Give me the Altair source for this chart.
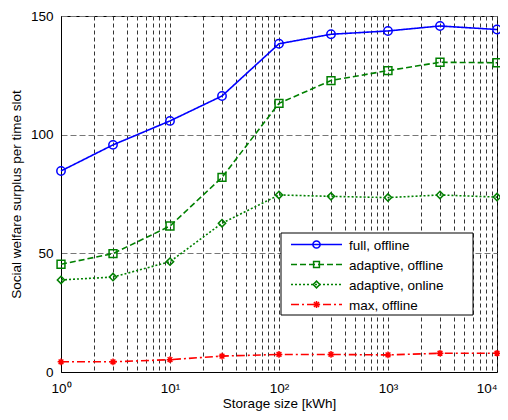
import altair as alt
import pandas as pd

# ---------------- data ----------------
sizes = [1, 3, 10, 30, 100, 300, 1000, 3000, 10000]
series_names = ["full, offline", "adaptive, offline", "adaptive, online", "max, offline"]
full_offline = [84.7, 95.7, 105.8, 116.3, 138.3, 142.3, 143.7, 145.8, 144.3]
adaptive_offline = [45.4, 49.9, 61.5, 82.0, 113.2, 122.8, 127.0, 130.5, 130.3]
adaptive_online = [38.8, 40.0, 46.5, 62.7, 74.6, 74.0, 73.5, 74.6, 73.7]
max_offline = [4.3, 4.3, 5.2, 6.7, 7.4, 7.4, 7.2, 7.9, 7.9]
y_ticks = [0, 50, 100, 150]
x_major = [1, 10, 100, 1000, 10000]
x_major_labels = ["10\u2070", "10\u00b9", "10\u00b2", "10\u00b3", "10\u2074"]

series_values = [full_offline, adaptive_offline, adaptive_online, max_offline]

# ---------------- styles ----------------
colors = ["#0000ff", "#008000", "#008000", "#ff0000"]
dashes = [[1, 0], [6, 3], [2, 2], [8, 3, 2, 3]]
star = "M-1,0L1,0M0,-1L0,1M-0.7,-0.7L0.7,0.7M-0.7,0.7L0.7,-0.7"
shapes = ["circle", "square", "diamond", star]
marker_sizes = [70, 45, 60, 70]
FONT = "Liberation Sans"

rows = []
for name, vals in zip(series_names, series_values):
    for s, v in zip(sizes, vals):
        rows.append({"series": name, "size": s, "value": v})
df = pd.DataFrame(rows)

x_grid = [m * 10 ** k for k in range(4) for m in range(1, 10)] + [10000]
label_expr = ""
for v, lab in zip(x_major, x_major_labels):
    label_expr += f"datum.value == {v} ? '{lab}' : "
label_expr += "''"
last = x_major[-1]

x_enc = alt.X(
    "size:Q",
    scale=alt.Scale(type="log", domain=[1, 10000], nice=False),
    axis=alt.Axis(
        title="Storage size [kWh]",
        values=x_grid,
        labelExpr=label_expr,
        labelOverlap=False,
        labelFlush=False,
        labelBound=False,
        labelAlign={"expr": f"datum.value == {last} ? 'right' : 'center'"},
        ticks=False,
        grid=True,
        gridDash=[4, 3],
        gridColor="#333333",
        gridWidth=1,
        labelPadding=9,
        titlePadding=2,
    ),
)
y_enc = alt.Y(
    "value:Q",
    scale=alt.Scale(domain=[0, 150], nice=False),
    axis=alt.Axis(
        title="Social welfare surplus per time slot",
        values=y_ticks,
        ticks=False,
        grid=True,
        gridDash=[6, 3],
        gridColor="#777777",
        labelPadding=8,
        titlePadding=7,
    ),
)

color_scale = alt.Scale(domain=series_names, range=colors)
dash_scale = alt.Scale(domain=series_names, range=dashes)
shape_scale = alt.Scale(domain=series_names, range=shapes)
size_scale = alt.Scale(domain=series_names, range=marker_sizes)

base = alt.Chart(df)
lines = base.mark_line(strokeWidth=1.6).encode(
    x=x_enc,
    y=y_enc,
    color=alt.Color("series:N", scale=color_scale, legend=None),
    strokeDash=alt.StrokeDash("series:N", scale=dash_scale, legend=None),
)
points = base.mark_point(filled=False, strokeWidth=1.5, opacity=1).encode(
    x="size:Q",
    y="value:Q",
    color=alt.Color("series:N", scale=color_scale, legend=None),
    shape=alt.Shape("series:N", scale=shape_scale, legend=None),
    size=alt.Size("series:N", scale=size_scale, legend=None),
)

# ---------------- manual legend (MATLAB style box) ----------------
one = alt.Data(values=[{"k": 0}])
box = alt.Chart(one).mark_rect(fill="white", stroke="black", strokeWidth=1).encode(
    x=alt.value(220), x2=alt.value(412), y=alt.value(217), y2=alt.value(299)
)
legend_layers = [box]
for i, name in enumerate(series_names):
    yy = 228.5 + 20 * i
    legend_layers.append(
        alt.Chart(one).mark_rule(
            color=colors[i], strokeWidth=1.6, strokeDash=dashes[i]
        ).encode(x=alt.value(230), x2=alt.value(281), y=alt.value(yy))
    )
    legend_layers.append(
        alt.Chart(one).mark_point(
            color=colors[i], filled=False, strokeWidth=1.5, shape=shapes[i],
            size=marker_sizes[i] * 0.75, opacity=1
        ).encode(x=alt.value(255.5), y=alt.value(yy))
    )
    legend_layers.append(
        alt.Chart(one).mark_text(
            align="left", baseline="middle", font=FONT, fontSize=13.5, color="black"
        ).encode(x=alt.value(288), y=alt.value(yy + 1), text=alt.value(name))
    )

chart = alt.layer(lines, points, *legend_layers).properties(
    width=436,
    height=356,
    autosize="none",
    padding={"left": 53, "top": 8, "right": 3, "bottom": 40},
    background="white",
).configure_view(
    stroke="black", strokeWidth=1
).configure_axis(
    labelFont=FONT,
    titleFont=FONT,
    labelFontSize=13.5,
    titleFontSize=13.5,
    titleFontWeight="normal",
    labelColor="black",
    titleColor="black",
    domainColor="black",
    domainWidth=1,
)

chart.save("out.html", embed_options={"renderer": "svg", "actions": False})
